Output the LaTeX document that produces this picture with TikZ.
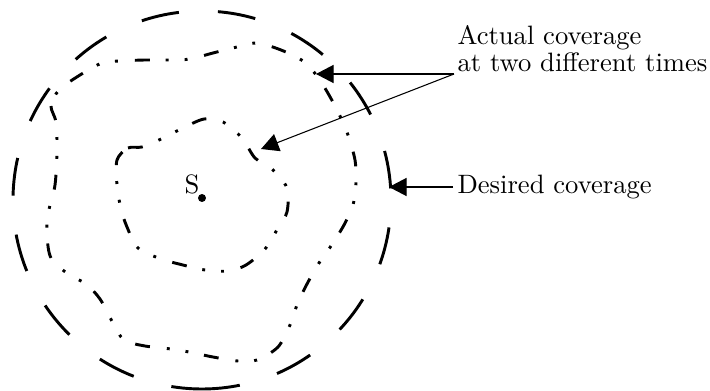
\documentclass[tikz,border=0pt]{standalone}
\usetikzlibrary{arrows.meta}
\begin{document}
\begin{tikzpicture}[x=0.376pt,y=-0.376pt,
  desired/.style={line width=1.1pt,dash pattern=on 14.3pt off 14.7pt},
  actual/.style={line width=1.1pt,dash pattern=on 5.6pt off 6.4pt on 1.1pt off 6pt on 1.1pt off 6pt},
  pointer/.style={line width=0.4pt,-{Triangle[length=6.6pt,width=6.8pt]}},
  lbl/.style={inner sep=0pt,anchor=base west}]
\useasboundingbox (0,0) rectangle (710,391);
% desired coverage (starts at the bottom, runs counterclockwise on the page)
\draw[desired] (202,389) arc[start angle=90,end angle=-270,radius=189];
% outer actual coverage
\draw[actual] plot[smooth cycle,tension=0.5] coordinates {
 (59,90) (51,106) (56,122) (57,150) (55,185) (48,214) (47,235) (51,258) (68,274) (86,284)
 (100,299) (113,323) (124,340) (145,346) (171,349) (189,352) (213,357) (238,361) (257,360)
 (278,347) (290,325) (297,305) (307,284) (319,263) (331,246) (344,225) (353,205) (356,183)
 (355,160) (348,135) (340,116) (329,95) (317,76) (303,61) (281,50) (257,43) (237,47)
 (213,53) (190,59) (170,60) (145,60) (120,61) (102,63) (80,75)};
% inner actual coverage
\draw[actual] plot[smooth cycle,tension=0.5] coordinates {
 (117,160) (128,148) (142,147) (159,140) (181,129) (204,119) (223,122) (242,138) (255,158)
 (272,169) (287,188) (287,212) (278,228) (265,249) (246,265) (228,271) (205,270) (179,264)
 (161,259) (138,248) (127,227) (121,209) (117,185)};
% source
\fill (202,198) circle[radius=1.5pt];
\node[inner sep=0pt,anchor=base] (S) at (192,193) {S};
% labels
\node[lbl] (act1) at (457,45) {Actual coverage};
\node[lbl] (act2) at (457,71) {at two different times};
\node[lbl] (des) at (457,193) {Desired coverage};
\coordinate (actfrom) at (454,74);
\coordinate (desfrom) at (453,187);
\coordinate (outerhit) at (316,74);
\coordinate (innerhit) at (261,149);
\coordinate (circhit) at (389,187);
\draw[pointer] (actfrom) -- (outerhit);
\draw[pointer] (actfrom) -- (innerhit);
\draw[pointer] (desfrom) -- (circhit);
\end{tikzpicture}
\end{document}
